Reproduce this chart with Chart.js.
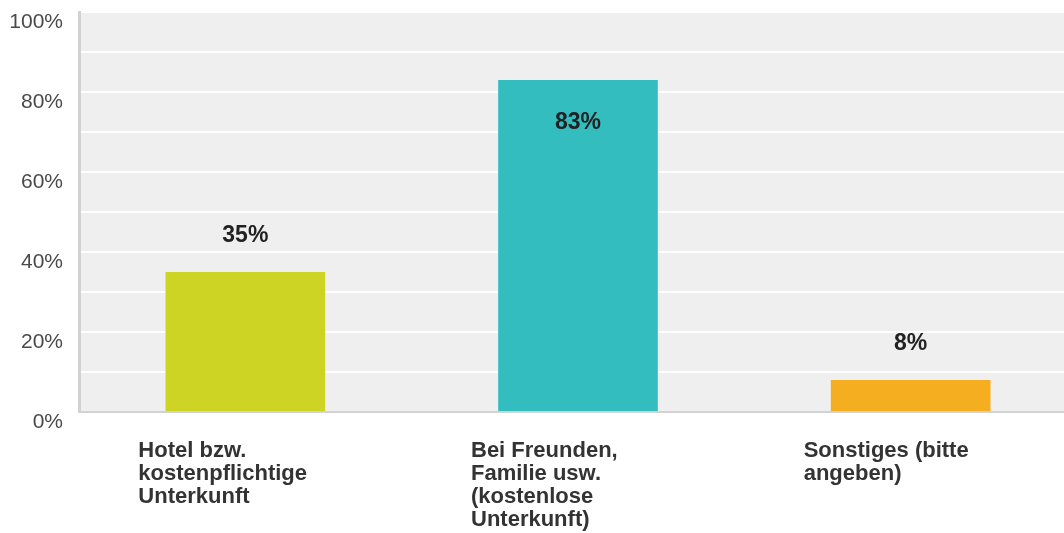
<!DOCTYPE html>
<html>
<head>
<meta charset="utf-8">
<script src="https://cdn.jsdelivr.net/npm/chart.js@4"></script>
<style>
  html, body { margin: 0; padding: 0; background: #fff; overflow: hidden; }
  #wrap { width: 1080px; height: 533px; }
</style>
</head>
<body>
<div id="wrap"><canvas id="chart" width="1080" height="533"></canvas></div>
<script>
// data
const categories = [
    ["Hotel bzw.", "kostenpflichtige", "Unterkunft"],
    ["Bei Freunden,", "Familie usw.", "(kostenlose", "Unterkunft)"],
    ["Sonstiges (bitte", "angeben)"]
];
const percentages = [35, 83, 8];
const barColors = ["#cdd424", "#33bdbf", "#f5ae20"];
const tickLabels = ["0%", "20%", "40%", "60%", "80%", "100%"];

/* ---------------------------
   gray plot background
---------------------------- */
const plotBackground = {
    id: "plotBackground",
    beforeDraw(chart) {
        const { ctx, chartArea } = chart;
        ctx.save();
        ctx.fillStyle = "#efefef";
        ctx.fillRect(chartArea.left, chartArea.top, chartArea.right - chartArea.left, chartArea.bottom - chartArea.top);
        ctx.restore();
    }
};

/* ---------------------------
   value labels on the bars
---------------------------- */
const valueLabels = {
    id: "valueLabels",
    afterDatasetsDraw(chart) {
        const { ctx } = chart;
        const meta = chart.getDatasetMeta(0);
        ctx.save();
        ctx.font = "bold 23px 'Liberation Sans', Arial, sans-serif";
        ctx.fillStyle = "#222";
        ctx.textAlign = "center";
        ctx.textBaseline = "middle";
        meta.data.forEach((bar, i) => {
            const v = percentages[i];
            // tall bar gets its label inside
            const y = v > 75 ? bar.y + 43 : bar.y - 36;
            ctx.fillText(v + "%", bar.x, y);
        });
        ctx.restore();
    }
};

new Chart(document.getElementById("chart"), {
    type: "bar",
    data: {
        labels: categories,
        datasets: [{
            data: percentages,
            backgroundColor: barColors,
            borderWidth: 0,
            categoryPercentage: 1,
            barPercentage: 0.48
        }]
    },
    options: {
        responsive: false,
        animation: false,
        layout: { padding: { top: 12, right: 3, left: 0, bottom: 0 } },
        plugins: {
            legend: { display: false },
            tooltip: { enabled: false }
        },
        scales: {
            x: {
                grid: { display: false, drawTicks: false },
                border: { display: true, color: "#d2d2d2", width: 2 },
                afterFit: axis => {
                    axis.height = 121;
                    axis.paddingLeft = 0;
                    axis.paddingRight = 0;
                },
                ticks: {
                    align: "start",
                    labelOffset: -107,
                    padding: 27,
                    color: "#333",
                    font: { family: "'Liberation Sans', Arial, sans-serif", size: 22, weight: "bold", lineHeight: "23px" },
                    maxRotation: 0,
                    autoSkip: false
                }
            },
            y: {
                min: 0,
                max: 100,
                afterFit: axis => {
                    axis.width = 79;
                    axis.paddingTop = 0;
                    axis.paddingBottom = 0;
                },
                grid: { color: "#ffffff", lineWidth: 2, drawTicks: false },
                border: { display: true, color: "#d2d2d2", width: 3 },
                ticks: {
                    stepSize: 10,
                    labelOffset: 10,
                    padding: 16,
                    color: "#4a4a4a",
                    font: { family: "'Liberation Sans', Arial, sans-serif", size: 21 },
                    callback: v => (v % 20 === 0 ? tickLabels[v / 20] : "")
                }
            }
        }
    },
    plugins: [plotBackground, valueLabels]
});
</script>
</body>
</html>
